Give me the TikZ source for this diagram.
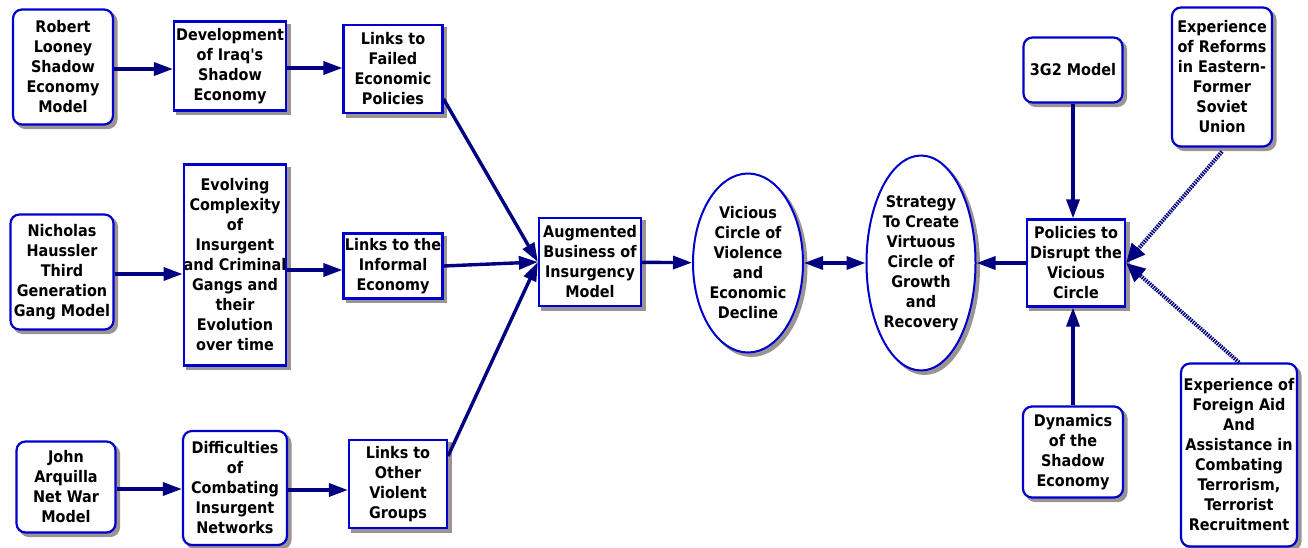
\documentclass[tikz,border=0pt]{standalone}
\usepackage{fontspec}
\newfontfamily\diagfont{DejaVu Sans Condensed}
\usetikzlibrary{arrows.meta,shapes.geometric}
\definecolor{boxblue}{RGB}{0,0,204}
\definecolor{arrownavy}{RGB}{0,0,128}
\definecolor{shadowgray}{RGB}{156,148,148}
\tikzset{
  boxfont/.style={font=\diagfont\bfseries\fontsize{16}{20}\selectfont},
  boxshadow/.style={preaction={fill=shadowgray, draw=shadowgray, transform canvas={xshift=3.5pt, yshift=-3.5pt}}},
  sqbox/.style={draw=boxblue, line width=2.2pt, fill=white, align=center, inner sep=0pt, boxfont, boxshadow},
  roundbox/.style={sqbox, rounded corners=9pt},
  boxsize/.style 2 args={minimum width=#1pt, minimum height=#2pt},
  ovalnode/.style={ellipse, draw=boxblue, line width=2pt, fill=white, inner sep=0pt, boxshadow},
  ovaltext/.style={align=center, inner sep=0pt, boxfont},
  flow/.style={draw=arrownavy, line width=3.4pt, -{Triangle[length=19pt, width=13pt]}},
  railflow/.style={draw=arrownavy, line width=4pt, dash pattern=on 1.5pt off 1pt, -{Triangle[length=19pt, width=17pt]}}
}
\begin{document}
\begin{tikzpicture}[x=1pt, y=-1pt]
      \useasboundingbox (0,0) rectangle (1308,548);
      % left column: source models
      \node[roundbox, boxsize={100}{115}] (looney) at (63,67) {Robert\\Looney\\Shadow\\Economy\\Model};
      \node[roundbox, boxsize={103}{115}] (haussler) at (62,272) {Nicholas\\Haussler\\Third\\Generation\\Gang Model};
      \node[roundbox, boxsize={99}{91}] (arquilla) at (66,487) {John\\Arquilla\\Net War\\Model};
      % second column
      \node[sqbox, boxsize={112}{89}] (iraqdev) at (230,66) {Development\\of Iraq's\\Shadow\\Economy};
      \node[sqbox, boxsize={98}{201}] (evolving) at (235,265) {Evolving\\Complexity\\of\\Insurgent\\and Criminal\\Gangs and\\their\\Evolution\\over time};
      \node[roundbox, boxsize={104}{114}] (difficult) at (235,488) {Difficulties\\of\\Combating\\Insurgent\\Networks};
      % third column: links
      \node[sqbox, boxsize={99}{88}] (failed) at (393,69) {Links to\\Failed\\Economic\\Policies};
      \node[sqbox, boxsize={99}{65}] (informal) at (393,266) {Links to the\\Informal\\Economy};
      \node[sqbox, boxsize={98}{88}] (violent) at (398,484) {Links to\\Other\\Violent\\Groups};
      % centre
      \node[sqbox, boxsize={102}{88}] (augmented) at (590,262) {Augmented\\Business of\\Insurgency\\Model};
      \node[ovalnode, boxsize={110}{179}] (vicious) at (748,263) {};
      \node[ovaltext] at (vicious) {Vicious\\Circle of\\Violence\\and\\Economic\\Decline};
      \node[ovalnode, boxsize={109}{215}] (strategy) at (921,263) {};
      \node[ovaltext] at (strategy) {Strategy\\To Create\\Virtuous\\Circle of\\Growth\\and\\Recovery};
      % right side: policies and their inputs
      \node[sqbox, boxsize={98}{87}] (policies) at (1076,263) {Policies to\\Disrupt the\\Vicious\\Circle};
      \node[roundbox, boxsize={99}{65}] (gtwo) at (1073,70) {3G2 Model};
      \node[roundbox, boxsize={100}{91}] (dynamics) at (1073,452) {Dynamics\\of the\\Shadow\\Economy};
      \node[roundbox, boxsize={100}{139}] (reforms) at (1222,77) {Experience\\of Reforms\\in Eastern-\\Former\\Soviet\\Union};
      \node[roundbox, boxsize={116}{183}] (foreignaid) at (1239,455) {Experience of\\Foreign Aid\\And\\Assistance in\\Combating\\Terrorism,\\Terrorist\\Recruitment};
      \begin{scope}[flow]
        \draw ([yshift=-2pt]looney.east) to ([yshift=-2pt]looney.east -| iraqdev.west);
        \draw ([yshift=-2pt]iraqdev.east) to ([yshift=-2pt]iraqdev.east -| failed.west);
        \draw ([yshift=-2pt]haussler.east) to ([yshift=-2pt]haussler.east -| evolving.west);
        \draw ([yshift=-4pt]informal.west -| evolving.east) to ([yshift=-4pt]informal.west);
        \draw ([yshift=-2pt]arquilla.east) to ([yshift=-2pt]arquilla.east -| difficult.west);
        \draw ([yshift=-2pt]difficult.east) to ([yshift=-2pt]difficult.east -| violent.west);
        \draw ([yshift=-30pt]failed.east) to (augmented.west);
        \draw (informal.east) to (augmented.west);
        \draw ([yshift=28pt]violent.east) to (augmented.west);
        \draw (augmented) to (vicious);
        \draw (policies) to (strategy);
        \draw (gtwo.south) to (gtwo.south |- policies.north);
        \draw (dynamics.north) to (dynamics.north |- policies.south);
      \end{scope}
      \draw[flow, {Triangle[length=19pt, width=13pt]}-{Triangle[length=19pt, width=13pt]}] (vicious) to (strategy);
      \begin{scope}[railflow]
        \draw ([yshift=-4pt]reforms.south) to (policies.east);
        \draw (foreignaid.north) to (policies.east);
      \end{scope}
    \end{tikzpicture}
\end{document}
